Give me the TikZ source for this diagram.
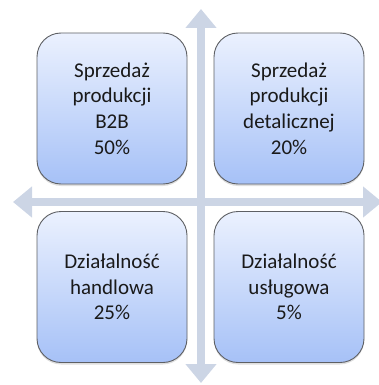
\documentclass[tikz,border=0pt]{standalone}
\usepackage{fontspec}
\setmainfont{Carlito}
\usetikzlibrary{arrows.meta,shadows}
\definecolor{arrowc}{HTML}{CCD5E5}
\definecolor{boxtop}{HTML}{EBF1FE}
\definecolor{boxbot}{HTML}{A6C1F7}
\definecolor{boxline}{HTML}{5E6064}
\definecolor{txt}{HTML}{1A1A1A}
\tikzset{
  quad/.style={rectangle, rounded corners=24pt, minimum width=150pt, minimum height=151pt,
    top color=boxtop, bottom color=boxbot, draw=boxline, line width=0.9pt,
    drop shadow={shadow xshift=0pt, shadow yshift=-2pt, opacity=0.25},
    align=center, text=txt, font=\fontsize{21pt}{25.7pt}\selectfont, inner sep=0pt},
  axis/.style={arrowc, line width=8pt,
    {Triangle[width=30pt,length=19pt]}-{Triangle[width=30pt,length=19pt]}}
}
\begin{document}
\begin{tikzpicture}[x=1pt,y=-1pt]
\useasboundingbox (0,0) rectangle (379,385);
\coordinate (vtop) at (201,9);
\coordinate (vbot) at (201,383);
\coordinate (hleft) at (13,202);
\coordinate (hright) at (382,202);
\draw[axis] (vtop) -- (vbot);
\draw[axis] (hleft) -- (hright);
\node[quad] (tl) at (112,108.5) {Sprzedaż\\produkcji\\B2B\\50\%};
\node[quad] (tr) at (289,108.5) {Sprzedaż\\produkcji\\detalicznej\\20\%};
\node[quad] (bl) at (112,287) {Działalność\\handlowa\\25\%};
\node[quad] (br) at (289,287) {Działalność\\usługowa\\5\%};
\end{tikzpicture}
\end{document}
